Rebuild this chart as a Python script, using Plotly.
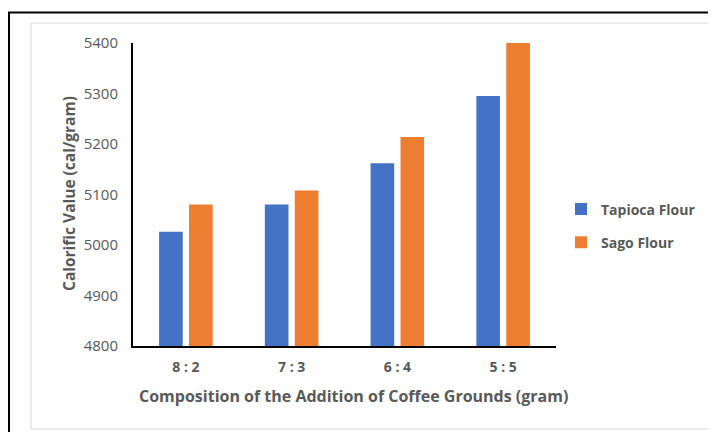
import plotly.graph_objects as go

categories = ["8 : 2", "7 : 3", "6 : 4", "5 : 5"]
tapioca = [5026, 5080, 5162, 5295]
sago = [5080, 5108, 5214, 5400]
series_names = ["Tapioca Flour", "Sago Flour"]
y_ticks = [4800, 4900, 5000, 5100, 5200, 5300, 5400]

# page body has an 8px margin; work in window pixels and convert
OFF = 8
W, H = 716 - OFF, 432 - OFF
x0, x1 = 133, 556   # plot area window-pixel bounds
yt, yb = 43, 346

def px(x):
    return (x - OFF) / W

def py(y):
    return 1 - (y - OFF) / H

fig = go.Figure()
fig.add_trace(go.Bar(x=categories, y=tapioca, name=series_names[0],
                     marker=dict(color="#4472C4", line=dict(width=0)),
                     legendgroup="a"))
fig.add_trace(go.Bar(x=categories, y=sago, name=series_names[1],
                     marker=dict(color="#ED7D31", line=dict(width=0)),
                     legendgroup="b"))

gray = "#595959"
FONT = "Open Sans"
fig.update_layout(
    width=W, height=H,
    margin=dict(l=0, r=0, t=0, b=0),
    paper_bgcolor="white", plot_bgcolor="white",
    barmode="group", bargap=0.434, bargroupgap=0.21,
    font=dict(family=FONT, color=gray),
    xaxis=dict(domain=[px(x0), px(x1)], showgrid=False, showline=True,
               linecolor="black", linewidth=2, automargin=False,
               ticks="outside", ticklen=7, tickcolor="rgba(0,0,0,0)",
               tickfont=dict(family=FONT, size=14, color=gray, weight="bold"),
               zeroline=False),
    yaxis=dict(domain=[py(yb), py(yt)], range=[4800, 5400], tickvals=y_ticks,
               showgrid=False, showline=True, linecolor="black", linewidth=2,
               automargin=False, ticks="outside", ticklen=10,
               tickcolor="rgba(0,0,0,0)",
               tickfont=dict(family=FONT, size=15, color=gray),
               zeroline=False),
    showlegend=True,
    legend=dict(x=px(561), y=py(226), xanchor="left", yanchor="middle",
                traceorder="grouped", tracegroupgap=12,
                font=dict(family=FONT, size=14, color=gray, weight="bold"),
                bgcolor="rgba(0,0,0,0)"),
    shapes=[
        dict(type="rect", xref="paper", yref="paper",
             x0=px(9), x1=px(740), y0=py(460), y1=py(12.5),
             line=dict(color="black", width=2), fillcolor="rgba(0,0,0,0)",
             layer="below"),
        dict(type="rect", xref="paper", yref="paper",
             x0=px(31), x1=px(712), y0=py(429), y1=py(23),
             line=dict(color="#d9d9d9", width=1), fillcolor="rgba(0,0,0,0)",
             layer="below"),
    ],
    annotations=[
        dict(text="Composition of the Addition of Coffee Grounds (gram)",
             x=px(353), y=py(396), xref="paper", yref="paper",
             xanchor="center", yanchor="middle", showarrow=False,
             font=dict(family=FONT, size=16, color=gray, weight="bold")),
        dict(text="Calorific Value (cal/gram)", textangle=-90,
             x=px(69), y=py(194), xref="paper", yref="paper",
             xanchor="center", yanchor="middle", showarrow=False,
             font=dict(family=FONT, size=15.5, color=gray, weight="bold")),
    ],
)

fig.write_html("out.html")
